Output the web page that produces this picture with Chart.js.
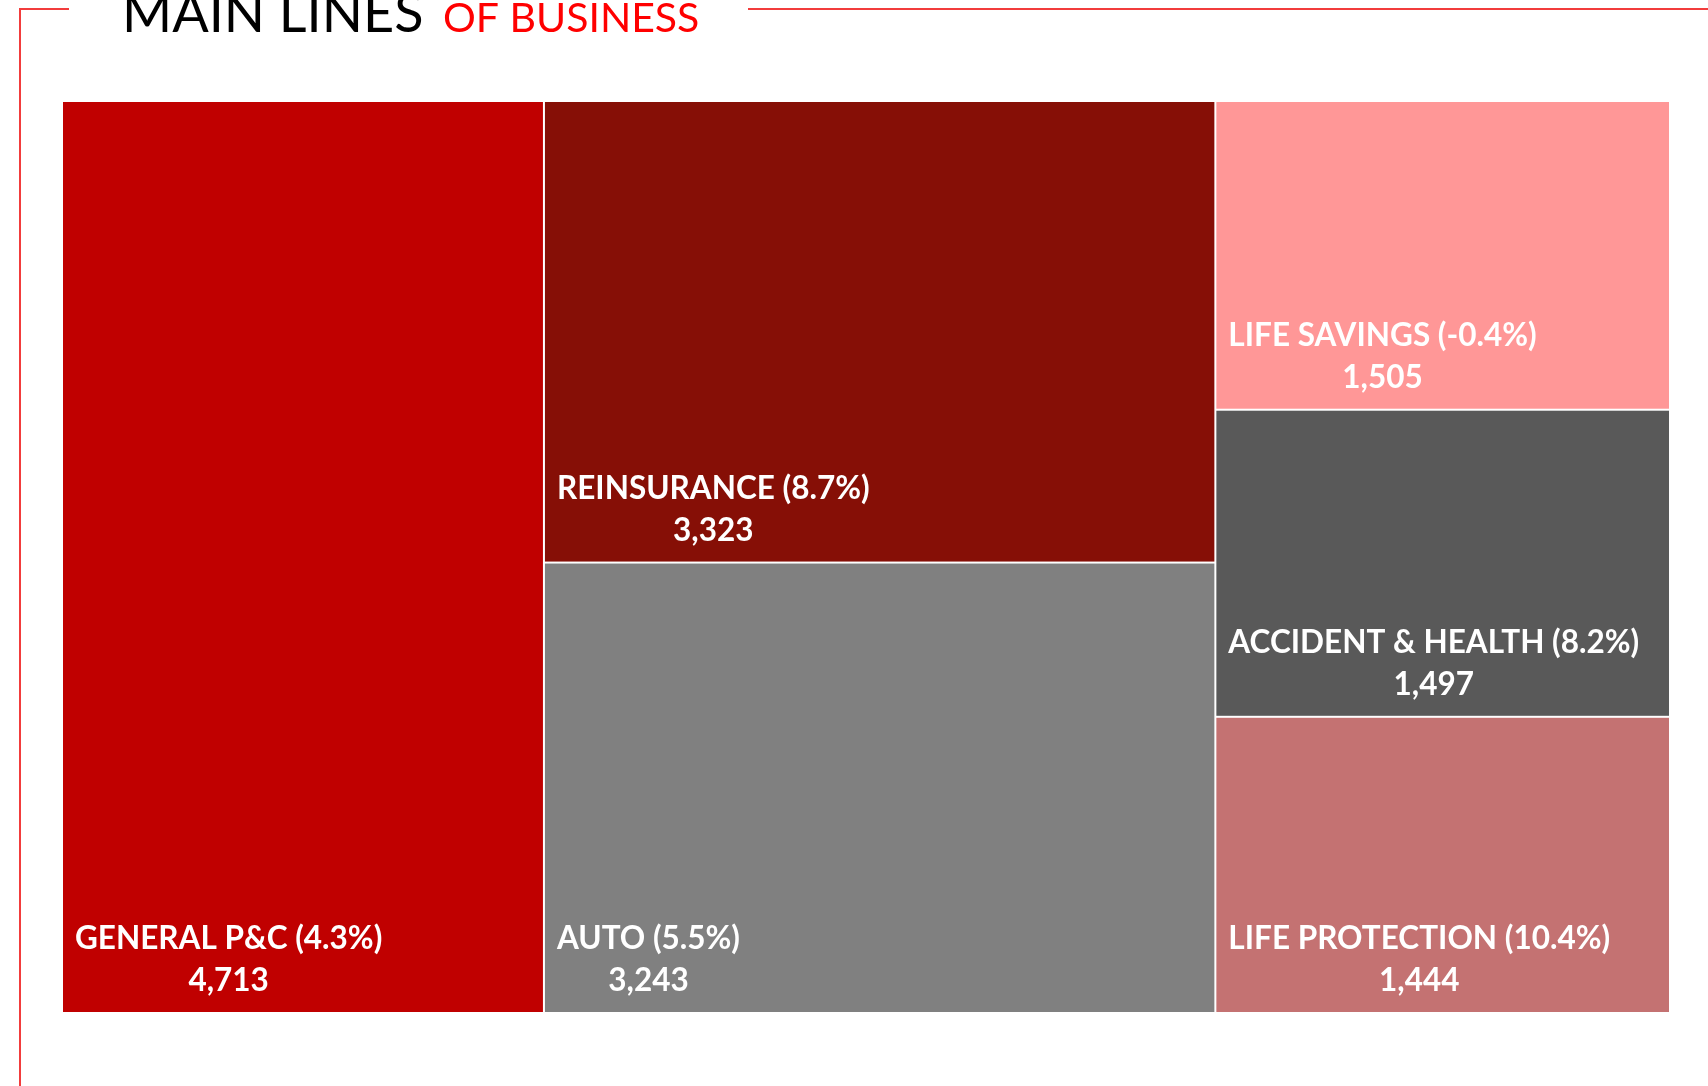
<!DOCTYPE html>
<html>
<head>
<meta charset="utf-8">
<title>Main lines of business</title>
<script src="https://cdn.jsdelivr.net/npm/chart.js@4.4.1/dist/chart.umd.min.js"></script>
<style>
	html, body { margin: 0; padding: 0; background: #fff; }
	#wrap { position: relative; width: 1708px; height: 1086px; }
</style>
</head>
<body>
<div id="wrap"><canvas id="treeChart"></canvas></div>
<script>
// data
const categories = ['GENERAL P&C', 'REINSURANCE', 'AUTO', 'LIFE SAVINGS', 'ACCIDENT & HEALTH', 'LIFE PROTECTION'];
const premiums = [4713, 3323, 3243, 1505, 1497, 1444];
const growth = ['4.3%', '8.7%', '5.5%', '-0.4%', '8.2%', '10.4%'];
const columns = [[0], [1, 2], [3, 4, 5]]; // which lines share a column
const colors = ['#C00000', '#860F06', '#808080', '#FF9797', '#595959', '#C47272'];

const total = premiums.reduce((a, b) => a + b, 0);

// build cells in data units: x = premium share, y = share within column (0..1)
let cells = [];
let xStart = 0;
columns.forEach(col => {
	let colSum = col.reduce((s, i) => s + premiums[i], 0);
	let yStart = 0;
	col.forEach(i => {
		let h = premiums[i] / colSum;
		cells.push({ i: i, x0: xStart, x1: xStart + colSum, y0: yStart, y1: yStart + h });
		yStart += h;
	});
	xStart += colSum;
});

const treemapPlugin = {
	id: 'treemap',
	beforeDatasetsDraw(chart) {
		const { ctx, scales: { x, y } } = chart;
		ctx.save();
		cells.forEach(c => {
			let left = x.getPixelForValue(c.x0);
			let right = x.getPixelForValue(c.x1);
			let top = y.getPixelForValue(c.y0);
			let bottom = y.getPixelForValue(c.y1);

			ctx.fillStyle = colors[c.i];
			ctx.fillRect(left + 1, top + 1, right - left - 2, bottom - top - 2);

			// label: name + growth, value centred under it
			let line1 = categories[c.i] + ' (' + growth[c.i] + ')';
			let line2 = premiums[c.i].toLocaleString('en-US');
			ctx.font = 'bold 31.5px Lato';
			ctx.fillStyle = '#fff';
			ctx.textBaseline = 'middle';
			ctx.textAlign = 'left';
			let tx = left + 13;
			let w1 = ctx.measureText(line1).width;
			ctx.fillText(line1, tx, bottom - 74);
			ctx.textAlign = 'center';
			ctx.fillText(line2, tx + w1 / 2, bottom - 32);
		});
		ctx.restore();
	},
	afterDraw(chart) {
		const ctx = chart.ctx;
		ctx.save();
		// red frame
		ctx.strokeStyle = '#F23C3C';
		ctx.lineWidth = 2;
		ctx.beginPath();
		ctx.moveTo(20, 1086);
		ctx.lineTo(20, 9);
		ctx.lineTo(69, 9);
		ctx.moveTo(748, 9);
		ctx.lineTo(1708, 9);
		ctx.stroke();

		// title
		ctx.textBaseline = 'alphabetic';
		ctx.textAlign = 'left';
		ctx.fillStyle = '#000';
		ctx.font = '54px Lato';
		ctx.fillText('MAIN LINES', 122, 32);
		ctx.fillStyle = '#FF0000';
		ctx.font = '41px Lato';
		ctx.fillText('OF BUSINESS', 443, 32);
		ctx.restore();
	}
};

new Chart(document.getElementById('treeChart'), {
	type: 'scatter',
	data: {
		datasets: [{
			data: [],
		}]
	},
	options: {
		responsive: true,
		maintainAspectRatio: false,
		animation: false,
		layout: {
			padding: { left: 62, right: 38, top: 101, bottom: 73 }
		},
		scales: {
			x: { type: 'linear', min: 0, max: total, display: false },
			y: { type: 'linear', min: 0, max: 1, reverse: true, display: false }
		},
		plugins: {
			legend: { display: false },
			tooltip: { enabled: false }
		}
	},
	plugins: [treemapPlugin]
});
</script>
</body>
</html>
